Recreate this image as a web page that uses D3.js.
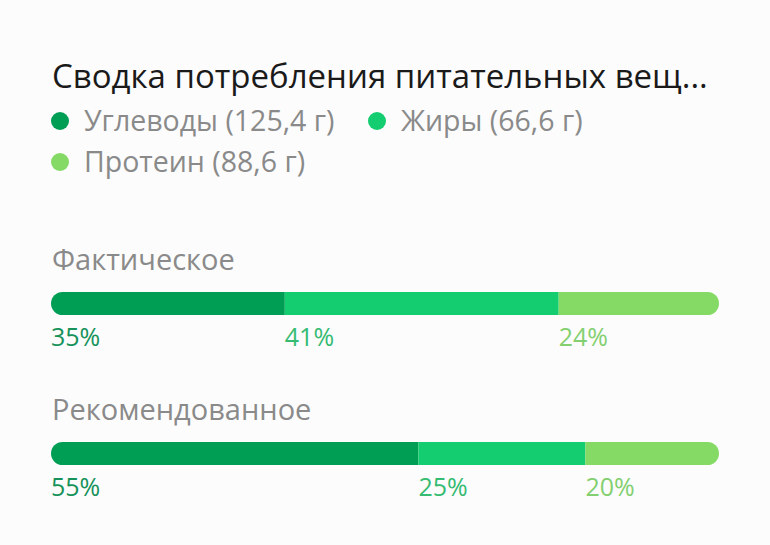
<!DOCTYPE html>
<html>
<head>
<meta charset="utf-8">
<script src="https://cdn.jsdelivr.net/npm/d3@7"></script>
<style>
  html, body { margin: 0; padding: 0; background: #fcfcfc; }
  svg { display: block; font-family: "Open Sans", Roboto, sans-serif; }
</style>
</head>
<body>
<svg width="770" height="545"></svg>
<script>
// nutrients and their grams
const nutrients = ["Углеводы", "Жиры", "Протеин"];
const grams = ["125,4", "66,6", "88,6"];
// bar rows and percent shares
const rows = ["Фактическое", "Рекомендованное"];
const actual = [35, 41, 24];
const recommended = [55, 25, 20];

const title = "Сводка потребления питательных вещ...";
const fills = ["#009d55", "#13cd70", "#84da64"];
const textFills = ["#16925a", "#35bb72", "#84d070"];

var svg = d3.select("svg");

var x = d3.scaleLinear().domain([0, 100]).range([51, 719]);
var y = d3.scaleBand().domain(rows).range([230, 530]);

svg.append("text")
    .attr("x", 52)
    .attr("y", 88)
    .attr("fill", "#1a1a1a")
    .attr("font-size", 33)
    .text(title);

// legend, two items on first line, one on second
var legendPos = [[60, 121], [377, 121], [60, 162]];
var legend = svg.append("g").attr("class", "legend")
  .selectAll("g")
  .data(nutrients)
  .enter().append("g")
    .attr("transform", function(d, i) { return "translate(" + legendPos[i][0] + "," + legendPos[i][1] + ")"; });

legend.append("circle")
    .attr("r", 9)
    .attr("fill", function(d, i) { return fills[i]; });

legend.append("text")
    .attr("x", 24)
    .attr("y", 9.5)
    .attr("fill", "#8a8a8a")
    .attr("font-size", 28.5)
    .text(function(d, i) { return d + " (" + grams[i] + " г)"; });

var table = [actual, recommended].map(function(vals, i) {
    var o = {row: rows[i]};
    nutrients.forEach(function(n, j) { o[n] = vals[j]; });
    return o;
});
var series = d3.stack().keys(nutrients)(table);

var rowG = svg.selectAll("g.row")
  .data(rows)
  .enter().append("g")
    .attr("class", "row")
    .attr("transform", function(d) { return "translate(0," + y(d) + ")"; });

rowG.append("text")
    .attr("x", 52)
    .attr("y", 40)
    .attr("fill", "#8a8a8a")
    .attr("font-size", 29)
    .text(function(d) { return d; });

rowG.append("clipPath")
    .attr("id", function(d, i) { return "clip" + i; })
  .append("rect")
    .attr("x", x(0))
    .attr("y", 62)
    .attr("width", x(100) - x(0))
    .attr("height", 23)
    .attr("rx", 11.5);

rowG.each(function(r, ri) {
    var g = d3.select(this);
    var segs = series.map(function(s, j) { return {k: j, d: s[ri]}; });

    g.append("g")
        .attr("clip-path", "url(#clip" + ri + ")")
      .selectAll("rect")
      .data(segs)
      .enter().append("rect")
        .attr("x", function(s) { return x(s.d[0]); })
        .attr("y", 62)
        .attr("width", function(s) { return x(s.d[1]) - x(s.d[0]); })
        .attr("height", 23)
        .attr("fill", function(s) { return fills[s.k]; });

    g.selectAll("text.pct")
      .data(segs)
      .enter().append("text")
        .attr("class", "pct")
        .attr("x", function(s) { return x(s.d[0]); })
        .attr("y", 116)
        .attr("font-size", 25)
        .attr("fill", function(s) { return textFills[s.k]; })
        .text(function(s) { return (s.d[1] - s.d[0]) + "%"; });
});
</script>
</body>
</html>
